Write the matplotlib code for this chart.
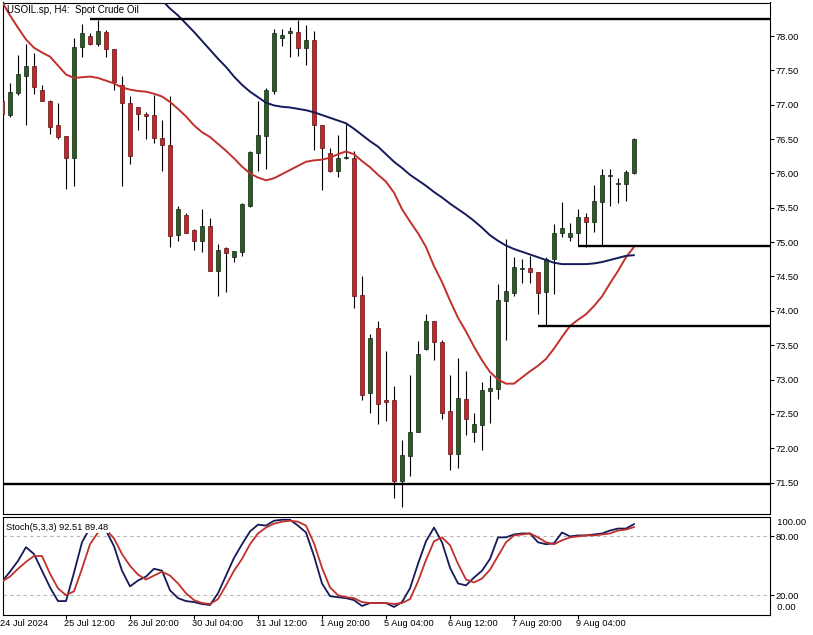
import matplotlib
matplotlib.use("Agg")
import matplotlib.pyplot as plt
from matplotlib.transforms import blended_transform_factory, offset_copy
import numpy as np

plt.rcParams['font.family'] = ['Liberation Sans', 'DejaVu Sans']
plt.rcParams['font.size'] = 6.7

# ---------------- data ----------------
opens = [77.05, 76.85, 77.17, 77.42, 77.56, 77.21, 77.06, 76.70, 76.54, 76.23,
         77.84, 78.00, 77.89, 78.06, 77.81, 77.29, 77.02, 76.96, 76.87, 76.85,
         76.51, 76.42, 75.10, 75.39, 75.17, 75.01, 75.23, 74.58, 74.91, 74.79,
         74.86, 75.53, 76.30, 76.54, 77.20, 77.97, 78.04, 78.06, 77.82, 77.94,
         76.71, 76.30, 76.04, 76.22, 76.23, 74.23, 72.80, 73.75, 72.70, 72.70,
         71.53, 71.89, 72.23, 73.44, 73.85, 73.55, 72.54, 71.91, 72.72, 72.24,
         72.34, 72.84, 72.86, 74.15, 74.26, 74.61, 74.62, 74.56, 74.28, 74.76,
         75.13, 75.07, 75.13, 75.36, 75.30, 75.59, 75.96, 75.85, 75.84, 76.00]
highs = [77.07, 77.31, 77.72, 77.89, 77.76, 77.29, 77.07, 77.03, 76.54, 77.97,
         78.17, 78.04, 78.23, 78.09, 77.81, 77.42, 77.12, 76.97, 76.89, 77.14,
         76.78, 77.12, 75.53, 75.43, 75.19, 75.48, 75.35, 74.97, 74.93, 74.87,
         75.57, 76.32, 77.06, 77.25, 78.10, 78.10, 78.13, 78.23, 78.16, 78.07,
         76.71, 76.37, 76.56, 76.73, 76.32, 74.51, 73.67, 73.85, 73.42, 72.91,
         72.12, 73.07, 73.56, 73.96, 73.85, 73.57, 73.07, 73.31, 73.12, 72.51,
         72.96, 73.07, 74.39, 75.04, 74.78, 74.76, 74.80, 74.56, 74.79, 75.26,
         75.59, 75.28, 75.48, 75.42, 75.83, 76.06, 76.06, 75.93, 76.05, 76.52]
lows = [76.85, 76.82, 77.14, 76.70, 77.16, 77.05, 76.58, 76.50, 75.77, 75.82,
        77.69, 77.87, 77.85, 77.70, 77.21, 75.81, 76.13, 76.63, 76.50, 76.45,
        76.04, 74.93, 75.01, 75.13, 74.88, 74.85, 74.58, 74.21, 74.28, 74.71,
        74.80, 75.51, 76.04, 76.06, 77.15, 77.86, 77.70, 77.71, 77.58, 76.34,
        75.76, 76.02, 75.95, 76.21, 74.04, 72.70, 72.52, 72.36, 72.40, 71.28,
        71.15, 71.59, 72.23, 73.43, 73.29, 72.42, 71.68, 71.71, 72.19, 72.09,
        71.97, 72.37, 72.71, 73.57, 74.22, 74.41, 74.41, 73.95, 73.79, 74.25,
        75.07, 75.01, 74.96, 74.93, 75.15, 74.96, 75.52, 75.57, 75.60, 75.99]
closes = [76.87, 77.18, 77.45, 77.56, 77.26, 77.06, 76.68, 76.53, 76.23, 77.84,
          78.04, 77.88, 78.07, 77.81, 77.33, 77.02, 76.26, 76.87, 76.84, 76.51,
          76.42, 75.09, 75.48, 75.14, 75.01, 75.23, 74.58, 74.89, 74.84, 74.87,
          75.55, 76.31, 76.56, 77.21, 78.05, 78.02, 78.07, 77.82, 77.94, 76.71,
          76.37, 76.04, 76.22, 76.23, 74.22, 72.77, 73.60, 72.64, 72.67, 71.53,
          71.90, 72.23, 73.37, 73.85, 73.55, 72.52, 71.91, 72.73, 72.42, 72.35,
          72.85, 72.88, 74.16, 74.29, 74.64, 74.62, 74.56, 74.26, 74.75, 75.13,
          75.20, 75.13, 75.36, 75.30, 75.60, 75.98, 75.97, 75.86, 76.02, 76.50]

ma_fast = [78.50, 78.30, 78.12, 77.95, 77.83, 77.76, 77.70, 77.57, 77.44, 77.39,
           77.40, 77.41, 77.39, 77.35, 77.31, 77.25, 77.22, 77.20, 77.19, 77.16,
           77.12, 77.04, 76.94, 76.83, 76.70, 76.60, 76.53, 76.43, 76.33, 76.22,
           76.10, 76.00, 75.94, 75.90, 75.93, 75.99, 76.05, 76.11, 76.17, 76.19,
           76.20, 76.23, 76.28, 76.32, 76.28, 76.18, 76.09, 75.98, 75.88, 75.72,
           75.48, 75.30, 75.13, 74.93, 74.65, 74.42, 74.15, 73.90, 73.70, 73.48,
           73.28, 73.11, 73.00, 72.94, 72.94, 73.03, 73.12, 73.20, 73.30, 73.45,
           73.62, 73.78, 73.87, 73.95, 74.07, 74.21, 74.40, 74.58, 74.78, 74.93]
ma_slow = [np.nan] * 20 + [
           78.52, 78.40, 78.30, 78.18, 78.06, 77.93, 77.80, 77.67, 77.55, 77.41,
           77.29, 77.19, 77.11, 77.03, 76.99, 76.97, 76.96, 76.94, 76.92, 76.89,
           76.85, 76.81, 76.77, 76.73, 76.65, 76.56, 76.47, 76.39, 76.28, 76.17,
           76.08, 75.98, 75.90, 75.82, 75.73, 75.65, 75.56, 75.48, 75.40, 75.31,
           75.21, 75.10, 75.02, 74.95, 74.90, 74.86, 74.82, 74.78, 74.74, 74.70,
           74.68, 74.68, 74.68, 74.68, 74.69, 74.71, 74.74, 74.77, 74.80, 74.81]

stoch_k = [34, 44, 55, 69, 62, 45, 28, 14, 14, 43,
           74, 89, 90, 86, 70, 45, 29, 35, 39, 47,
           45, 25, 17, 14, 13, 11, 10, 22, 40, 58,
           72, 85, 92, 91, 96, 97, 97, 91, 84, 60,
           32, 19, 18, 17, 15, 9, 12, 12, 12, 8,
           13, 27, 52, 75, 89, 74, 48, 32, 30, 38,
           45, 57, 79, 79, 82, 83, 83, 74, 72, 73,
           84, 80, 81, 81, 82, 83, 86, 88, 88, 92.51]
stoch_d = [34, 39, 47, 54, 60, 60, 42, 27, 20, 24,
           47, 72, 84, 87, 78, 62, 50, 41, 36, 40,
           44, 40, 32, 22, 15, 12, 11, 16, 30, 45,
           57, 72, 83, 89, 93, 95, 96, 95, 91, 73,
           48, 28, 20, 18, 17, 13, 12, 12, 12, 11,
           12, 16, 34, 56, 75, 79, 71, 52, 36, 33,
           37, 46, 60, 74, 81, 82, 83, 79, 74, 72,
           76, 79, 80, 81, 81, 82, 83, 86, 87, 89.48]

level_prices = [78.25, 74.95, 73.78, 71.48]
level_start_bar = [11, 72, 67, 0]

time_label_bars = [0, 8, 16, 24, 32, 40, 48, 56, 64, 72]
time_labels = ["24 Jul 2024", "25 Jul 12:00", "26 Jul 20:00", "30 Jul 04:00",
               "31 Jul 12:00", "1 Aug 20:00", "5 Aug 04:00", "6 Aug 12:00",
               "7 Aug 20:00", "9 Aug 04:00"]
price_ticks = [71.5, 72.0, 72.5, 73.0, 73.5, 74.0, 74.5, 75.0, 75.5, 76.0, 76.5, 77.0, 77.5, 78.0]

title = "USOIL.sp, H4:  Spot Crude Oil"
stoch_title = "Stoch(5,3,3) 92.51 89.48"

# ---------------- figure ----------------
W, H = 813, 635
fig = plt.figure(figsize=(W / 100, H / 100), dpi=100)
fig.patch.set_facecolor('white')

def rect(l, t, r, b):
    return [l / W, 1 - b / H, (r - l) / W, (b - t) / H]

ax = fig.add_axes(rect(3, 2.5, 770, 513.5))
ax2 = fig.add_axes(rect(3, 516.8, 770, 614.8))

O = np.array(opens); Hh = np.array(highs); L = np.array(lows); C = np.array(closes)
x = np.arange(len(O))
up = C >= O

GREEN = '#2b5a27'
RED = '#c4272a'
ax.vlines(x, L, Hh, color='black', lw=0.8, zorder=2)
body = np.maximum(np.abs(C - O), 0.014)
bot = np.minimum(O, C)
ax.bar(x[up], body[up], bottom=bot[up], width=0.62, color=GREEN,
       edgecolor='#0f250d', linewidth=0.5, zorder=3)
ax.bar(x[~up], body[~up], bottom=bot[~up], width=0.62, color=RED,
       edgecolor='#5a1010', linewidth=0.5, zorder=3)

ax.plot(x, ma_fast, color='#c0302c', lw=1.4, zorder=4, solid_capstyle='round')
ax.plot(x, ma_slow, color='#141a5a', lw=1.4, zorder=4, solid_capstyle='round')

xmin, xmax = 0.125, 96
for p, s in zip(level_prices, level_start_bar):
    ax.hlines(p, max(s, xmin), xmax, color='black', lw=1.7, zorder=5)

ax.set_xlim(xmin, xmax)
ax.set_ylim(71.05, 78.488)
ax.yaxis.tick_right()
ax.set_yticks(price_ticks)
ax.set_yticklabels([f"{v:.2f}" for v in price_ticks])
ax.tick_params(axis='y', direction='out', length=3, width=0.8, pad=0.8, labelsize=6.7)
ax.set_xticks([])
for sp in ax.spines.values():
    sp.set_color('black'); sp.set_linewidth(0.8)

# stochastic
ax2.plot(x, stoch_k, color='#141a5a', lw=1.3, zorder=3)
ax2.plot(x, stoch_d, color='#c0302c', lw=1.3, zorder=4)
for lvl in (80, 20):
    ax2.axhline(lvl, color='#b5b5b5', lw=0.8, ls=(0, (3, 3)), zorder=1)
ax2.set_xlim(xmin, xmax)
ax2.set_ylim(0, 100)
ax2.yaxis.tick_right()
ax2.set_yticks([80, 20])
ax2.set_yticklabels(['80.00', '20.00'])
ax2.tick_params(axis='y', direction='out', length=3, width=0.8, pad=0.8, labelsize=6.7)
trans_y = blended_transform_factory(ax2.transAxes, ax2.transData)
ax2.text(1.0, 94, '  100.00', transform=offset_copy(trans_y, fig=fig, x=1.5, y=0, units='points'),
         ha='left', va='center', fontsize=6.7, clip_on=False)
ax2.text(1.0, 7, '  0.00', transform=offset_copy(trans_y, fig=fig, x=1.5, y=0, units='points'),
         ha='left', va='center', fontsize=6.7, clip_on=False)
ax2.set_xticks(time_label_bars[1:])
ax2.set_xticklabels([])
ax2.tick_params(axis='x', direction='out', length=3, width=0.8)
trans_x = blended_transform_factory(ax2.transData, ax2.transAxes)
for b, lab in zip(time_label_bars, time_labels):
    ax2.text(b - 0.2, -0.045, lab, transform=trans_x, ha='left', va='top',
             fontsize=6.7, clip_on=False)
for sp in ax2.spines.values():
    sp.set_color('black'); sp.set_linewidth(0.8)

fig.text(7 / W, 1 - 10 / H, title, ha='left', va='center', fontsize=7.0)
fig.text(6 / W, 1 - 527 / H, stoch_title, ha='left', va='center', fontsize=6.7,
         bbox=dict(facecolor='white', edgecolor='none', pad=0.8))

fig.savefig('out.png', dpi=100, facecolor='white')
